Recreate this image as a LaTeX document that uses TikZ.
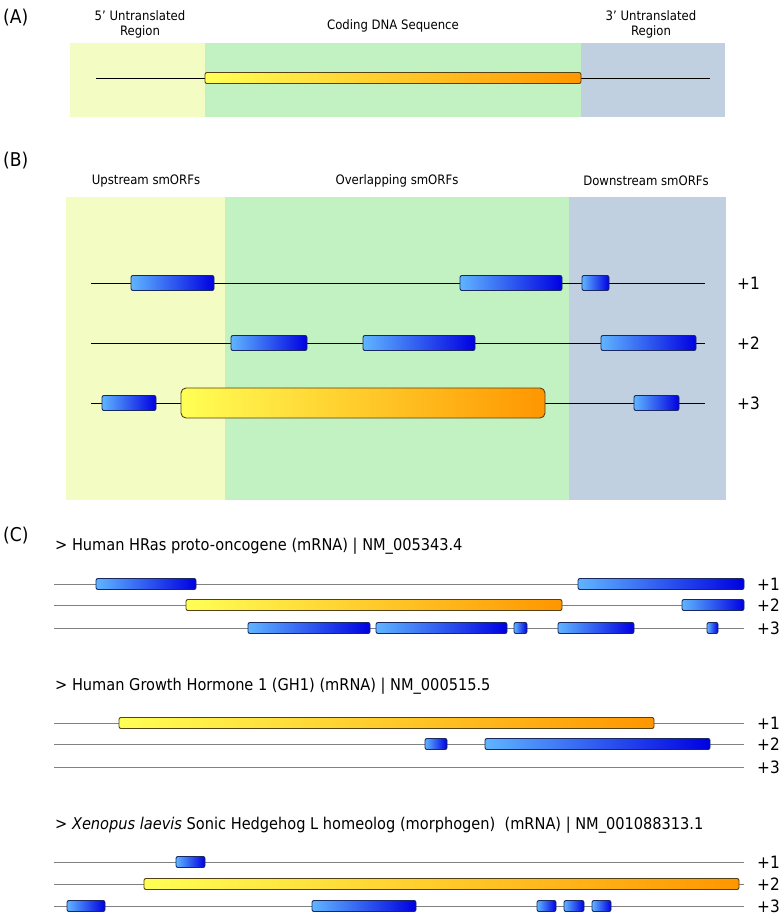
\documentclass[tikz,border=0pt]{standalone}
\usepackage{fontspec}
\setmainfont{DejaVu Sans Condensed}
\begin{document}
\begin{tikzpicture}[x=1pt,y=-1pt]
\definecolor{bandY}{RGB}{242,252,195}
\definecolor{bandG}{RGB}{194,242,194}
\definecolor{bandB}{RGB}{192,208,224}
\definecolor{blueL}{RGB}{95,180,255}
\definecolor{blueR}{RGB}{0,0,225}
\definecolor{yelL}{RGB}{255,255,85}
\definecolor{yelR}{RGB}{255,150,0}
\definecolor{blueEdge}{RGB}{25,40,95}
\definecolor{yelEdge}{RGB}{85,65,20}
\tikzset{
  panel/.style={font=\fontsize{19}{21}\selectfont, anchor=west, inner sep=0pt},
  region/.style={font=\fontsize{13}{15}\selectfont, align=center, inner sep=0pt},
  title/.style={font=\fontsize{16.2}{19}\selectfont, anchor=west, inner sep=0pt},
  frame/.style={font=\fontsize{17}{19}\selectfont, anchor=west, inner sep=0pt},
  blackline/.style={draw=black, line width=0.9pt},
  grayline/.style={draw=black!50, line width=1pt},
  orfblue/.style={draw=blueEdge, line width=0.9pt, rounded corners=2pt, left color=blueL, right color=blueR, inner sep=0pt},
  orfyel/.style={draw=yelEdge, line width=0.9pt, rounded corners=2pt, left color=yelL, right color=yelR, inner sep=0pt},
  orfyelbig/.style={draw=yelEdge, line width=0.9pt, rounded corners=5pt, left color=yelL, right color=yelR, inner sep=0pt},
}
% \orf{name}{x1}{x2}{y}{h}{style}
\newcommand\orf[6]{\node[#6, minimum width=#3pt-#2pt, minimum height=#5pt] (#1) at ({(#2+#3)/2},#4) {};}
\useasboundingbox[fill=white] (0,0) rectangle (784,916);

% ---------------- (A)
\node[panel] (pA) at (3,18) {(A)};
\fill[bandY] (70,43) rectangle (205,117);
\fill[bandG] (205,43) rectangle (581,117);
\fill[bandB] (581,43) rectangle (725,117);
\node[region] (rA1) at (140,24) {5’ Untranslated\\Region};
\node[region] (rA2) at (393,26) {Coding DNA Sequence};
\node[region] (rA3) at (651,24) {3’ Untranslated\\Region};
\coordinate (a0) at (96,78);
\coordinate (a1) at (710,78);
\draw[blackline] (a0) -- (a1);
\orf{cdsA}{205}{581}{78}{11}{orfyel}

% ---------------- (B)
\node[panel] (pB) at (3,161) {(B)};
\fill[bandY] (66,197) rectangle (225,500);
\fill[bandG] (225,197) rectangle (569,500);
\fill[bandB] (569,197) rectangle (726,500);
\node[region] (rB1) at (146,181) {Upstream smORFs};
\node[region] (rB2) at (397,181) {Overlapping smORFs};
\node[region] (rB3) at (646,181) {Downstream smORFs};
\foreach \y/\n/\t in {283/1/+1, 343/2/+2, 403/3/+3}{
  \coordinate (b\n s) at (91,\y);
  \coordinate (b\n e) at (705,\y);
  \draw[blackline] (b\n s) -- (b\n e);
  \node[frame] (fB\n) at (737,\y) {\t};
}
\orf{b11}{131}{214}{283}{15}{orfblue}
\orf{b12}{460}{562}{283}{15}{orfblue}
\orf{b13}{582}{609}{283}{15}{orfblue}
\orf{b21}{231}{307}{343}{15}{orfblue}
\orf{b22}{363}{475}{343}{15}{orfblue}
\orf{b23}{601}{696}{343}{15}{orfblue}
\orf{b31}{102}{156}{403}{15}{orfblue}
\orf{b32}{181}{545}{403}{30}{orfyelbig}
\orf{b33}{634}{679}{403}{15}{orfblue}

% ---------------- (C)
\node[panel] (pC) at (3,536) {(C)};

% HRas
\node[title] (t1) at (55,546) {> Human HRas proto-oncogene (mRNA) | NM\_005343.4};
\foreach \y/\n/\t in {584/1/+1, 605/2/+2, 628/3/+3}{
  \coordinate (h\n s) at (54,\y);
  \coordinate (h\n e) at (744,\y);
  \draw[grayline] (h\n s) -- (h\n e);
  \node[frame] (fH\n) at (757,\y) {\t};
}
\orf{h11}{96}{196}{584}{11}{orfblue}
\orf{h12}{578}{744}{584}{11}{orfblue}
\orf{h21}{186}{562}{605}{11}{orfyel}
\orf{h22}{682}{744}{605}{11}{orfblue}
\orf{h31}{248}{370}{628}{11}{orfblue}
\orf{h32}{376}{507}{628}{11}{orfblue}
\orf{h33}{514}{527}{628}{11}{orfblue}
\orf{h34}{558}{634}{628}{11}{orfblue}
\orf{h35}{707}{718}{628}{11}{orfblue}

% GH1
\node[title] (t2) at (55,686) {> Human Growth Hormone 1 (GH1) (mRNA) | NM\_000515.5};
\foreach \y/\n/\t in {723/1/+1, 744/2/+2, 767/3/+3}{
  \coordinate (g\n s) at (54,\y);
  \coordinate (g\n e) at (744,\y);
  \draw[grayline] (g\n s) -- (g\n e);
  \node[frame] (fG\n) at (757,\y) {\t};
}
\orf{g11}{119}{654}{723}{11}{orfyel}
\orf{g21}{425}{447}{744}{11}{orfblue}
\orf{g22}{485}{710}{744}{11}{orfblue}

% Xenopus
\node[title] (t3) at (55,825) {> \textit{Xenopus laevis} Sonic Hedgehog L homeolog (morphogen)\ \ (mRNA) | NM\_001088313.1};
\foreach \y/\n/\t in {862/1/+1, 884/2/+2, 906/3/+3}{
  \coordinate (x\n s) at (54,\y);
  \coordinate (x\n e) at (744,\y);
  \draw[grayline] (x\n s) -- (x\n e);
  \node[frame] (fX\n) at (757,\y) {\t};
}
\orf{x11}{176}{205}{862}{11}{orfblue}
\orf{x21}{144}{739}{884}{11}{orfyel}
\orf{x31}{67}{105}{906}{11}{orfblue}
\orf{x32}{312}{416}{906}{11}{orfblue}
\orf{x33}{537}{556}{906}{11}{orfblue}
\orf{x34}{564}{584}{906}{11}{orfblue}
\orf{x35}{592}{611}{906}{11}{orfblue}
\end{tikzpicture}
\end{document}
